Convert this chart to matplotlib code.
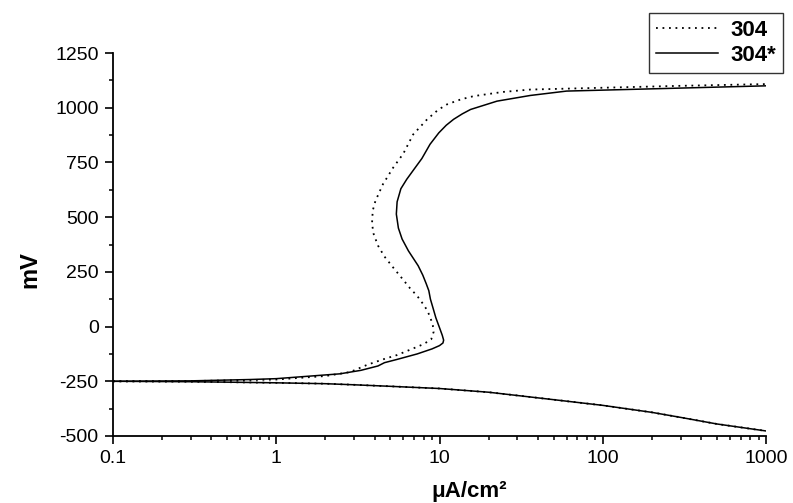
import matplotlib
matplotlib.use("Agg")
import matplotlib.pyplot as plt
from matplotlib.ticker import FixedLocator, MultipleLocator, LogLocator, NullFormatter, FuncFormatter

plt.rcParams['font.family'] = ['Liberation Sans', 'DejaVu Sans']
plt.rcParams['axes.unicode_minus'] = False

# Shared cathodic branch (µA/cm², mV)
cath_i = [0.1, 0.3, 0.5, 1, 2, 3, 5, 10, 20, 30, 50, 100, 200, 300, 500, 1000]
cath_E = [-250, -252, -254, -257, -261, -266, -273, -283, -300, -315, -334, -360, -392, -415, -445, -477]

# Anodic branch, series "304" (dotted)
s304_i = [0.1, 0.3, 1, 2, 2.83, 3.6, 4.5, 5.5, 6.9, 8.0, 8.9, 9.2, 9.1, 8.8, 8.4, 7.9, 7.3, 6.6, 5.9,
          5.2, 4.6, 4.2, 3.95, 3.86, 3.9, 4.05, 4.5, 5.2, 6.0, 6.9, 8.4, 9.8, 11.1, 13.5, 16.2, 24.4,
          36, 97, 300, 1000]
s304_E = [-250, -249, -242, -226, -208, -175, -150, -130, -100, -80, -58, -25, 5, 40, 75, 105, 140, 175, 220,
          270, 320, 370, 423, 470, 530, 574, 650, 726, 790, 878, 947, 990, 1015, 1038, 1053, 1072,
          1083, 1091, 1100, 1108]

# Anodic branch, series "304*" (solid)
s304s_i = [0.1, 0.3, 0.69, 1, 2.45, 3.3, 4.2, 4.6, 5.5, 7.3, 9.0, 10.0, 10.5, 10.6, 10.4, 10.0, 9.5,
           9.1, 8.8, 8.6, 8.3, 7.9, 7.4, 6.45, 5.9, 5.6, 5.44, 5.5, 5.8, 6.3, 7.0, 7.8, 8.75, 9.9, 11.0,
           12.2, 13.8, 15.5, 22.5, 36, 60, 246, 1000]
s304s_E = [-250, -248, -242, -238, -216, -200, -180, -165, -150, -125, -102, -87, -75, -62, -40, -5, 40,
           88, 125, 164, 195, 235, 278, 346, 400, 450, 514, 570, 630, 673, 720, 768, 833, 885, 920,
           947, 972, 992, 1030, 1056, 1076, 1088, 1100]

labels = ['304', '304*']
xticks = [0.1, 1, 10, 100, 1000]
yticks = [-500, -250, 0, 250, 500, 750, 1000, 1250]

fig = plt.figure(figsize=(7.93, 5.03), dpi=100)
ax = fig.add_axes([113/793, 1-436/503, (766-113)/793, (436-53)/503])

dot_style = dict(color='black', lw=1.3, linestyle=(0, (1, 2.6)))
sol_style = dict(color='black', lw=1.1, linestyle='-')

l1, = ax.plot(s304_i, s304_E, **dot_style, label=labels[0])
ax.plot(cath_i, cath_E, **dot_style)
l2, = ax.plot(s304s_i, s304s_E, **sol_style, label=labels[1])
ax.plot(cath_i, cath_E, **sol_style)

ax.set_xscale('log')
ax.set_xlim(0.1, 1000)
ax.set_ylim(-500, 1250)
ax.xaxis.set_major_locator(FixedLocator(xticks))
ax.xaxis.set_major_formatter(FuncFormatter(lambda v, p: ('%g' % v)))
ax.xaxis.set_minor_locator(LogLocator(base=10, subs=range(2, 10)))
ax.xaxis.set_minor_formatter(NullFormatter())
ax.yaxis.set_major_locator(FixedLocator(yticks))
ax.yaxis.set_minor_locator(MultipleLocator(125))

for s in ['top', 'right']:
    ax.spines[s].set_visible(False)
for s in ['left', 'bottom']:
    ax.spines[s].set_linewidth(1.3)

ax.tick_params(which='major', direction='out', length=5.8, width=1.2, labelsize=14, pad=4.5)
ax.tick_params(which='minor', direction='out', length=3, width=1.1)

fig.text(30/793, 1-270/503, 'mV', rotation=90, ha='center', va='center',
         fontsize=17, fontweight='bold')
fig.text(469/793, 1-491/503, 'μA/cm²', ha='center', va='center',
         fontsize=16, fontweight='bold')

leg = fig.legend(handles=[l1, l2], loc='upper right',
                 bbox_to_anchor=(783/793, 1-13/503), bbox_transform=fig.transFigure,
                 borderaxespad=0, fancybox=False, frameon=True, edgecolor='black',
                 handlelength=2.8, handletextpad=0.55, labelspacing=0.2, borderpad=0.3,
                 prop={'weight': 'bold', 'size': 16})
leg.get_frame().set_linewidth(1.0)

fig.savefig('out.png', dpi=100)
